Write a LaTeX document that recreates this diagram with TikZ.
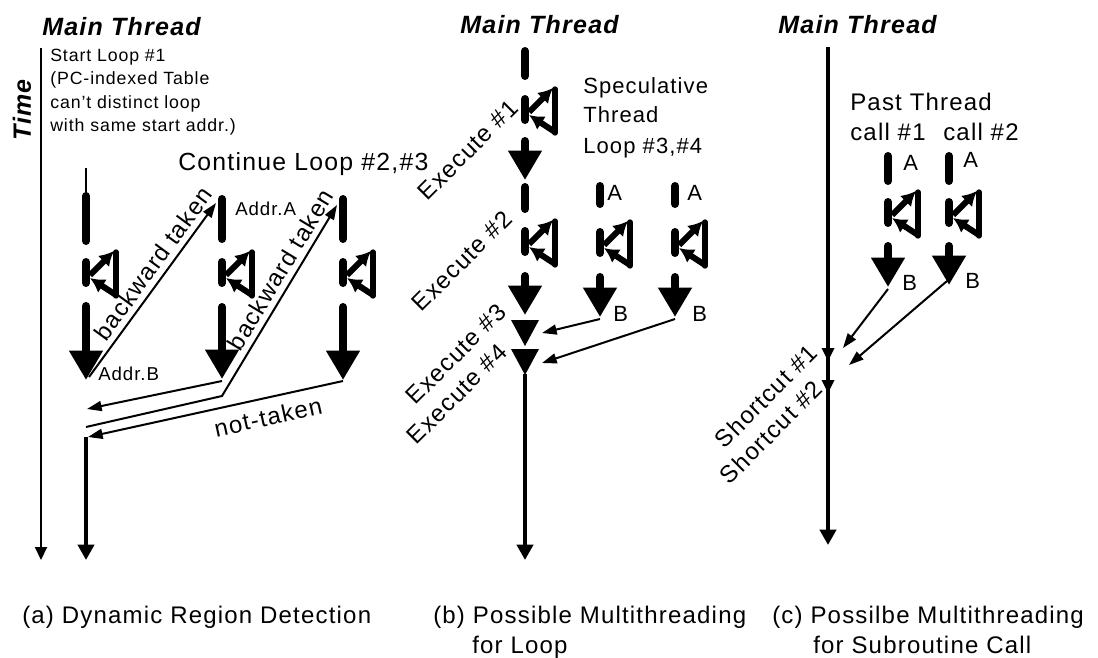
\documentclass[tikz,border=0pt]{standalone}
\usepackage{fontspec}
\setmainfont{Liberation Sans}[LetterSpace=5]
\usetikzlibrary{arrows.meta}

% loop mark on a thread: #1 = column x, #2 = top of the loop dash
\newcommand\loopglyph[2]{%
  \draw[seg] (#1,{#2+4}) -- (#1,{#2+25});
  \draw[loopln] ({#1+30},{#2-6}) -- ({#1+30},{#2+38});
  \draw[looparrow] ({#1+4},{#2+17}) -- ({#1+28},{#2-7});
  \draw[looparrow] ({#1+30},{#2+37}) -- ({#1+4},{#2+20});
}

\tikzset{
  seg/.style={line width=6pt, line cap=round},
  seghead/.style={line width=6pt, line cap=round, -{Triangle[length=22pt,width=24pt]}},
  loopln/.style={line width=4pt, line cap=round},
  looparrow/.style={line width=4.5pt, -{Latex[length=11pt,width=12pt]}},
  conn/.style={line width=1.5pt, -{Triangle[length=11pt,width=7.5pt]}},
  connrev/.style={line width=1.5pt, {Triangle[length=11pt,width=7.5pt]}-},
  plain/.style={line width=1.5pt},
  axis/.style={line width=1.5pt, -{Triangle[length=9.75pt,width=9pt]}},
  flow/.style={line width=3pt, -{Triangle[length=11.5pt,width=12pt]}},
  title/.style={font=\fontsize{18.75}{22}\selectfont\bfseries\itshape, inner sep=0pt},
  big/.style={font=\fontsize{18}{22}\selectfont, inner sep=0pt},
  mid/.style={font=\fontsize{16.5}{20}\selectfont, inner sep=0pt},
  note/.style={font=\fontsize{13.3}{16}\selectfont, inner sep=0pt},
  addr/.style={font=\fontsize{14}{17}\selectfont, inner sep=0pt},
}

\begin{document}
\begin{tikzpicture}[x=0.75pt,y=-0.75pt]
\fill[white] (0,0) rectangle (1098,657);
\useasboundingbox (0,0) rectangle (1098,657);

%%%%%%%%%%%%%%%% (a) Dynamic Region Detection
\node[title, anchor=base west] (mta) at (42,35) {Main Thread};
\node[title, rotate=90] (time) at (22,110) {Time};
\coordinate (t0) at (41,48);
\coordinate (t1) at (41,560);
\draw[axis] (t0) -- (t1);

\node[note, anchor=base west] (s1) at (50,61) {Start Loop \#1};
\node[note, anchor=base west] (s2) at (50,84) {(PC-indexed Table};
\node[note, anchor=base west] (s3) at (50,108) {can't distinct loop};
\node[note, anchor=base west] (s4) at (50,131) {with same start addr.)};

\node[big, font=\fontsize{18.6}{22}\selectfont, anchor=base west] (cont) at (178,170) {Continue Loop \#2,\#3};
\node[addr, anchor=base west] (addra) at (235,215) {Addr.A};
\node[addr, anchor=base west] (addrb) at (98,380) {Addr.B};

% iteration 1
\draw[plain] (86,168) -- (86,193);
\draw[seg] (86,196) -- (86,241);
\loopglyph{86}{258}
\draw[seghead] (86,306) -- (86,380);
% iteration 2
\draw[seg] (222,199) -- (222,239);
\loopglyph{222}{258}
\draw[seghead] (222,307) -- (222,379);
% iteration 3
\draw[seg] (343,199) -- (343,239);
\loopglyph{343}{258}
\draw[seghead] (343,307) -- (343,380);

\coordinate (a1out) at (89,377);
\coordinate (a2top) at (216,203);
\coordinate (a2tip) at (222,381);
\coordinate (a2low) at (222,396);
\coordinate (a3top) at (337,205);
\coordinate (a3tip) at (343,381);
\coordinate (rA) at (87,409);
\coordinate (rB) at (86,427);
\coordinate (rC) at (88,437);
\coordinate (rD) at (86,437);
\coordinate (rE) at (86,560);

\draw[conn] (a1out) -- node[big, sloped, above, pos=0.6, inner sep=4pt] (bt1) {backward taken} (a2top);
\draw[conn] (a2tip) -- (rA);
\draw[conn] (rB) -- (a2low) -- node[big, sloped, above, pos=0.62, inner sep=4pt] (bt2) {backward taken} (a3top);
\draw[connrev] (rC) -- node[big, sloped, below, pos=0.69, inner sep=7pt] (nt) {not-taken} (a3tip);
\draw[flow] (rD) -- (rE);

\node[big, anchor=base west] (capa) at (22,623) {(a) Dynamic Region Detection};

%%%%%%%%%%%%%%%% (b) Possible Multithreading for Loop
\node[title, anchor=base west] (mtb) at (460,33) {Main Thread};

\draw[seg] (525,51) -- (525,76);
\loopglyph{525}{95}
\draw[seghead] (525,141) -- (525,180);
\draw[seg] (525,187) -- (525,209);
\loopglyph{525}{227}
\draw[seghead] (525,276) -- (525,315);
\fill (511,320) -- (539,320) -- (525,346) -- cycle;
\fill (511,349) -- (539,349) -- (525,375) -- cycle;
\coordinate (bm0) at (525,374);
\coordinate (bm1) at (525,560);
\draw[flow] (bm0) -- (bm1);

% speculative threads
\draw[seg] (600,186) -- (600,204);
\loopglyph{600}{228}
\draw[seghead] (600,277) -- (600,317);
\draw[seg] (675,186) -- (675,204);
\loopglyph{675}{228}
\draw[seghead] (675,277) -- (675,317);

\coordinate (b3tip) at (600,319);
\coordinate (b3in) at (542,333);
\coordinate (b4tip) at (675,319);
\coordinate (b4in) at (542,363);
\draw[conn] (b3tip) -- (b3in);
\draw[conn] (b4tip) -- (b4in);

\node[mid, anchor=base west] (sp1) at (583,93) {Speculative};
\node[mid, anchor=base west] (sp2) at (583,122) {Thread};
\node[mid, anchor=base west] (sp3) at (583,153) {Loop \#3,\#4};
\node[mid, anchor=base west] (ba1) at (607,200) {A};
\node[mid, anchor=base west] (ba2) at (687,200) {A};
\node[mid, anchor=base west] (bb1) at (613,321) {B};
\node[mid, anchor=base west] (bb2) at (692,321) {B};

\node[big, rotate=45] (ex1) at (468,150) {Execute \#1};
\node[big, rotate=45] (ex2) at (462,261) {Execute \#2};
\node[big, rotate=45] (ex3) at (456,354) {Execute \#3};
\node[big, rotate=45] (ex4) at (457,394) {Execute \#4};

\node[big, anchor=base west] (capb1) at (433,623) {(b) Possible Multithreading};
\node[big, anchor=base west] (capb2) at (472,653) {for Loop};

%%%%%%%%%%%%%%%% (c) Possible Multithreading for Subroutine Call
\node[title, anchor=base west] (mtc) at (778,33) {Main Thread};
\coordinate (cm0) at (828,47);
\coordinate (cm1) at (828,545);
\draw[flow] (cm0) -- (cm1);
\fill (821.5,348) -- (834.5,348) -- (828,361) -- cycle;
\fill (821.5,380) -- (834.5,380) -- (828,393) -- cycle;

% past threads
\draw[seg] (888,156) -- (888,181);
\loopglyph{888}{198}
\draw[seghead] (888,246) -- (888,287);
\draw[seg] (949,156) -- (949,181);
\loopglyph{949}{198}
\draw[seghead] (949,246) -- (949,285);

\coordinate (c1tip) at (888,289);
\coordinate (c1in) at (843,348);
\coordinate (c2tip) at (947,281);
\coordinate (c2in) at (849,365);
\draw[conn] (c1tip) -- (c1in);
\draw[conn] (c2tip) -- (c2in);

\node[big, anchor=base west] (pt) at (850,110) {Past Thread};
\node[big, anchor=base west] (call1) at (850,140) {call \#1};
\node[big, anchor=base west] (call2) at (943,140) {call \#2};
\node[mid, anchor=base west] (ca1) at (903,170) {A};
\node[mid, anchor=base west] (ca2) at (963,167) {A};
\node[mid, anchor=base west] (cb1) at (902,290) {B};
\node[mid, anchor=base west] (cb2) at (965,288) {B};

\node[big, rotate=45] (sc1) at (766,396) {Shortcut \#1};
\node[big, rotate=45] (sc2) at (771,432) {Shortcut \#2};

\node[big, anchor=base west] (capc1) at (772,623) {(c) Possilbe Multithreading};
\node[big, anchor=base west] (capc2) at (813,653) {for Subroutine Call};
\end{tikzpicture}
\end{document}
